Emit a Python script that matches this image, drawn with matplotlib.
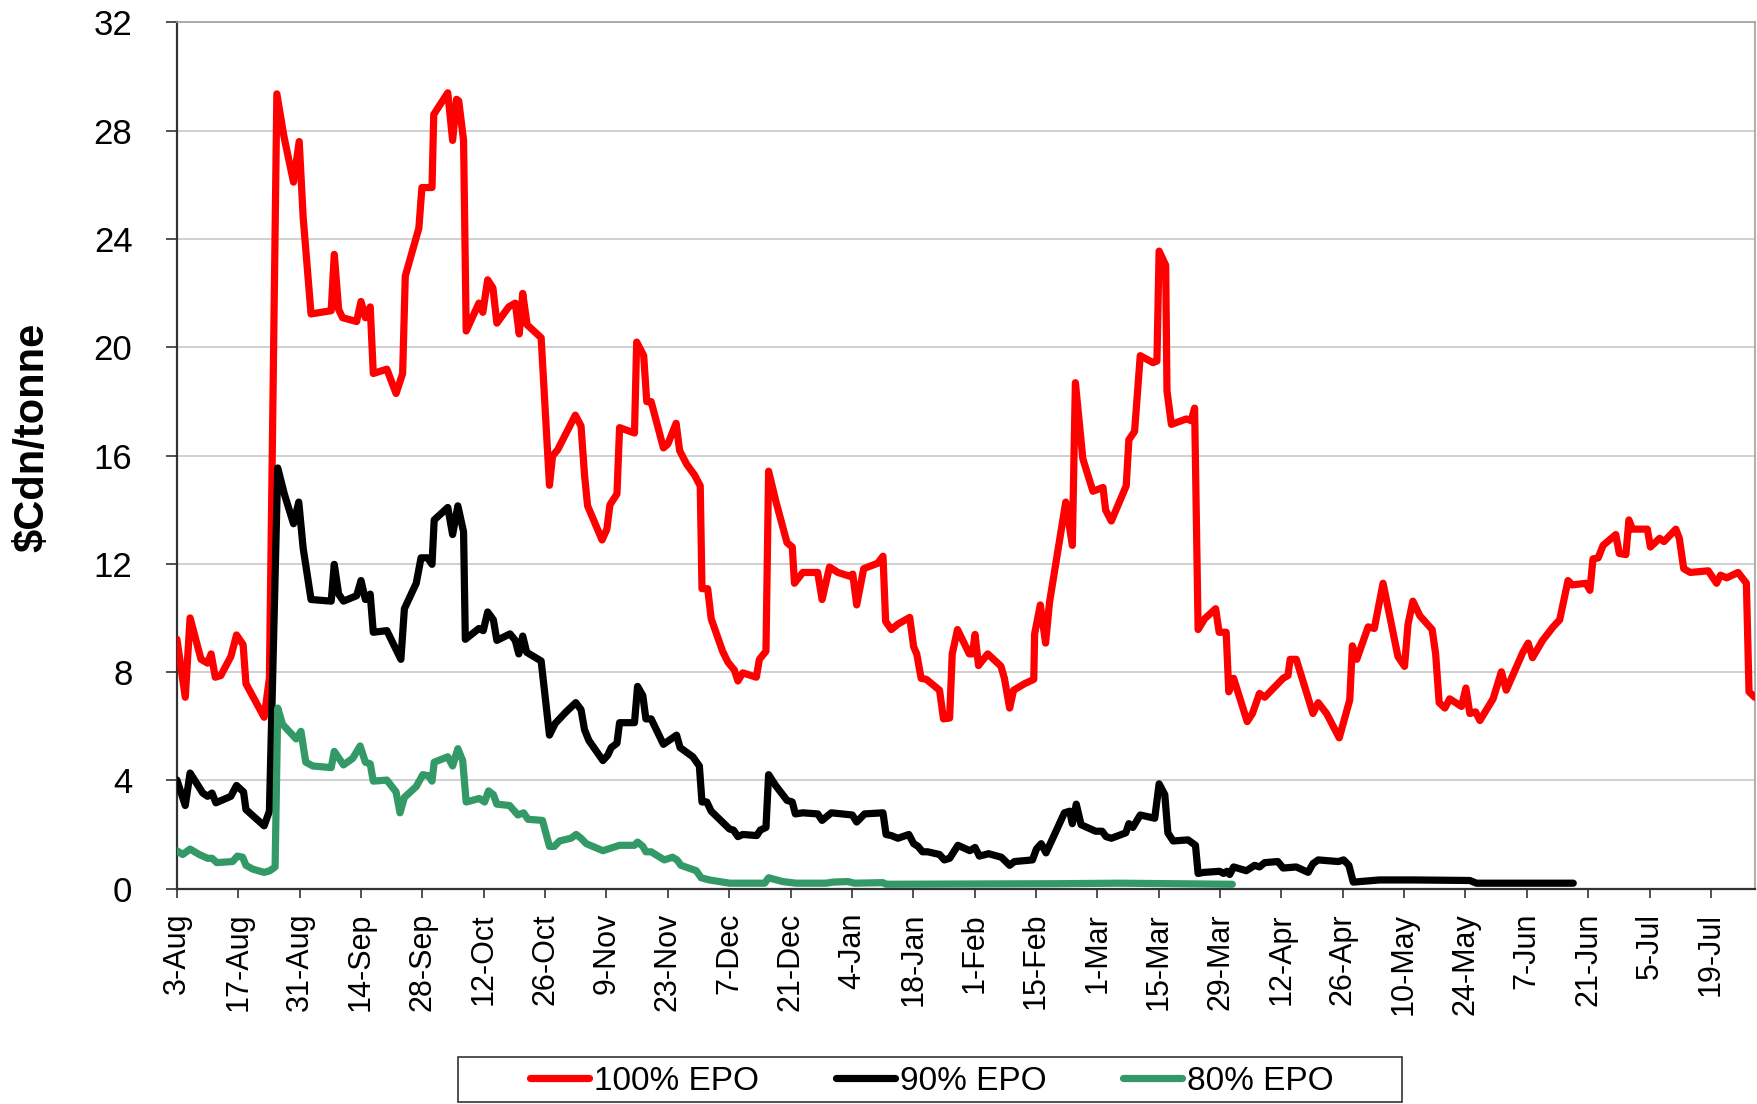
import numpy as np
import matplotlib
matplotlib.use('Agg')
import matplotlib.pyplot as plt
import pandas as pd
from matplotlib.patches import Rectangle

# days counted from 3-Aug, values in $Cdn/tonne
red_days = [0, 1.9, 3.0, 5.5, 7.0, 7.8, 8.75, 10.0, 12.3, 13.6, 15.1, 15.75, 19.9, 21.1, 22.8, 24.4,
            26.6, 27.9, 28.8, 30.6, 35.2, 35.9, 36.9, 37.8, 41.0, 42.0, 43.0, 44.1, 44.8, 47.9, 50.0,
            51.5, 52.1, 55.2, 55.9, 58.2, 58.6, 61.8, 62.9, 63.8, 64.3, 65.4, 66.0, 68.9, 69.8, 70.9,
            72.1, 73.0, 75.7, 77.2, 78.1, 78.9, 79.9, 83.1, 85.0, 85.7, 86.9, 90.9, 92.2, 93.0, 93.7,
            97.0, 98.1, 98.8, 100.4, 101.0, 104.4, 104.9, 106.5, 107.2, 108.2, 111.0, 112.0, 113.9,
            114.7, 116.3, 118.1, 119.4, 119.8, 121.1, 121.9, 124.5, 125.7, 127.2, 128.0, 129.1, 132.2,
            132.9, 134.4, 135.0, 136.7, 139.2, 140.4, 140.9, 142.8, 146.2, 147.2, 148.9, 150.8, 153.5,
            154.2, 155.1, 156.7, 159.9, 161.1, 161.7, 163.0, 164.5, 167.2, 168.1, 168.8, 169.8, 171.0,
            174.0, 174.9, 176.3, 176.9, 178.1, 180.8, 181.5, 182.1, 182.9, 183.7, 185.0, 188.0, 188.8,
            190.0, 190.9, 193.4, 195.5, 195.7, 197.0, 198.2, 199.1, 202.8, 204.3, 205.0, 206.7, 209.0,
            211.3, 211.9, 213.2, 216.6, 217.2, 218.5, 219.8, 222.7, 223.6, 224.1, 225.6, 225.9, 226.9,
            230.3, 231.4, 232.2, 233.0, 234.5, 237.0, 237.8, 239.4, 240.0, 241.1, 244.2, 245.4, 247.0,
            248.2, 252.4, 253.5, 254.0, 255.4, 259.2, 260.4, 262.3, 265.2, 267.6, 268.2, 269.2, 271.8,
            273.2, 274.0, 275.2, 278.6, 280.1, 280.9, 282.0, 283.6, 286.4, 287.2, 288.0, 289.3, 290.4,
            293.1, 294.1, 295.0, 296.3, 297.3, 300.3, 302.2, 303.3, 307.1, 308.3, 309.3, 311.6, 314.0,
            315.5, 317.4, 318.4, 321.5, 322.4, 323.1, 324.3, 325.4, 328.3, 329.1, 330.6, 331.3, 332.1,
            335.5, 336.2, 338.3, 339.3, 342.0, 342.8, 343.8, 345.3, 349.4, 351.3, 352.2, 353.6, 356.2,
            358.1, 358.7, 360.0]
red_vals = [9.21, 7.07, 10.0, 8.47, 8.33, 8.67, 7.81, 7.87, 8.57, 9.37, 9.01, 7.57, 6.33, 7.77, 29.36, 27.8,
            26.1, 27.6, 24.8, 21.23, 21.35, 23.43, 21.39, 21.09, 20.95, 21.69, 21.09, 21.49, 19.03, 19.19, 18.29,
            19.03, 22.63, 24.4, 25.9, 25.9, 28.6, 29.4, 27.64, 29.16, 29.1, 27.64, 20.6, 21.63, 21.29, 22.49,
            22.19, 20.89, 21.49, 21.63, 20.49, 21.99, 20.83, 20.35, 14.9, 15.98, 16.22, 17.49, 17.09, 15.28, 14.14,
            12.88, 13.28, 14.18, 14.58, 17.03, 16.83, 20.19, 19.69, 17.99, 17.99, 16.28, 16.42, 17.19,
            16.18, 15.68, 15.28, 14.88, 11.08, 11.08, 9.97, 8.77, 8.37, 8.07, 7.67, 7.97, 7.81,
            8.47, 8.77, 15.42, 14.28, 12.78, 12.62, 11.28, 11.68, 11.68, 10.68, 11.88, 11.68, 11.54,
            11.62, 10.48, 11.82, 12.02, 12.28, 9.87, 9.57, 9.77, 10.02, 8.93, 8.67, 7.77, 7.73,
            7.33, 6.27, 6.3, 8.67, 9.57, 8.67, 8.67, 9.39, 8.24, 8.41, 8.67, 8.22, 7.77,
            6.67, 7.33, 7.57, 7.73, 9.41, 10.48, 9.07, 10.58, 14.28, 12.68, 18.69, 15.88, 14.68,
            14.82, 13.98, 13.58, 14.88, 16.58, 16.89, 19.69, 19.43, 19.49, 23.55, 23.03, 18.39, 17.15,
            17.35, 17.29, 17.75, 9.57, 9.97, 10.34, 9.47, 9.47, 7.27, 7.77, 6.17, 6.47, 7.21,
            7.07, 7.77, 7.87, 8.47, 8.47, 6.47, 6.87, 6.47, 5.57, 6.97, 8.97, 8.47, 9.67,
            9.61, 10.28, 11.28, 8.57, 8.21, 9.77, 10.62, 10.08, 9.57, 8.67, 6.87, 6.67, 7.01,
            6.73, 7.41, 6.47, 6.53, 6.21, 7.01, 8.01, 7.33, 8.73, 9.07, 8.53, 9.17, 9.67,
            9.93, 11.38, 11.22, 11.28, 11.02, 12.18, 12.22, 12.68, 13.08, 12.38, 12.34, 13.62, 13.28,
            13.28, 12.62, 12.94, 12.82, 13.28, 12.94, 11.82, 11.68, 11.74, 11.28, 11.58, 11.48, 11.68,
            11.28, 7.27, 7.07]

black_days = [0, 1.9, 3.0, 5.9, 7.0, 8.0, 8.9, 12.3, 13.6, 15.2, 15.75, 19.9, 21.1, 23.0, 24.5, 26.6,
              27.8, 28.8, 30.6, 35.2, 35.9, 36.9, 38.0, 41.0, 42.0, 43.0, 44.1, 44.8, 47.9, 51.1, 51.9,
              54.6, 55.7, 57.2, 58.2, 58.7, 61.8, 62.9, 64.1, 65.4, 65.8, 68.9, 69.9, 70.9, 72.2, 73.0,
              76.0, 77.2, 78.0, 78.9, 79.8, 83.1, 85.0, 86.3, 88.8, 91.0, 92.2, 93.0, 94.0, 97.2, 98.3,
              99.1, 100.4, 101.0, 104.4, 105.1, 106.3, 107.0, 108.2, 111.0, 114.0, 114.8, 117.7, 119.2,
              119.8, 120.9, 121.9, 126.1, 127.0, 128.0, 129.1, 132.3, 133.1, 134.4, 135.0, 136.6, 139.2,
              140.4, 141.1, 142.8, 146.2, 147.2, 149.3, 154.1, 155.1, 156.9, 161.1, 161.8, 163.0, 164.5,
              167.0, 168.1, 169.1, 170.1, 171.3, 174.0, 175.1, 176.3, 178.2, 180.9, 182.1, 183.1, 185.2,
              188.1, 190.0, 191.1, 195.2, 196.1, 197.2, 198.3, 202.5, 203.7, 204.3, 205.2, 206.3, 209.6,
              211.1, 212.0, 213.2, 216.5, 217.2, 218.1, 219.8, 223.1, 224.1, 225.4, 226.1, 227.3, 230.7,
              232.4, 233.0, 234.3, 237.9, 238.8, 239.6, 240.2, 241.1, 244.0, 245.9, 247.0, 248.2, 251.2,
              252.4, 255.4, 258.1, 259.2, 260.4, 265.0, 266.2, 267.4, 268.4, 274.4, 282.0, 295.0, 296.5,
              318.6]
black_vals = [4.01, 3.07, 4.27, 3.53, 3.41, 3.53, 3.17, 3.41, 3.81, 3.57, 2.92, 2.32, 2.86, 15.54, 14.58, 13.48,
              14.28, 12.58, 10.68, 10.62, 11.98, 10.88, 10.62, 10.82, 11.38, 10.68, 10.88, 9.47, 9.53, 8.47, 10.34,
              11.28, 12.22, 12.22, 11.98, 13.62, 14.08, 13.08, 14.14, 13.18, 9.21, 9.61, 9.53, 10.22, 9.93, 9.17,
              9.41, 9.17, 8.67, 9.33, 8.73, 8.41, 5.67, 6.1, 6.53, 6.87, 6.61, 5.87, 5.47, 4.73, 4.93,
              5.21, 5.37, 6.13, 6.13, 7.47, 7.13, 6.27, 6.27, 5.33, 5.67, 5.21, 4.87, 4.53,
              3.2, 3.2, 2.86, 2.2, 2.16, 1.92, 2.0, 1.96, 2.16, 2.26, 4.21, 3.81, 3.26,
              3.2, 2.76, 2.8, 2.76, 2.52, 2.8, 2.72, 2.46, 2.76, 2.8, 2.0, 1.96, 1.86,
              2.0, 1.66, 1.56, 1.36, 1.36, 1.26, 1.06, 1.12, 1.6, 1.4, 1.52, 1.2, 1.29,
              1.16, 0.86, 1.0, 1.06, 1.46, 1.66, 1.32, 2.8, 2.86, 2.4, 3.12, 2.36, 2.12,
              2.12, 1.92, 1.86, 2.06, 2.4, 2.26, 2.72, 2.6, 3.87, 3.47, 2.06, 1.76, 1.8,
              1.6, 0.56, 0.6, 0.64, 0.56, 0.64, 0.52, 0.8, 0.66, 0.86, 0.8, 0.96, 1.0,
              0.76, 0.8, 0.6, 0.92, 1.06, 1.0, 1.06, 0.86, 0.24, 0.32, 0.32, 0.3, 0.2,
              0.2]

green_days = [0, 1.3, 3.0, 5.1, 7.0, 8.0, 9.1, 12.7, 13.8, 15.0, 15.75, 17.3, 19.9, 21.2, 22.4, 23.0,
              24.1, 27.2, 28.3, 29.4, 31.0, 35.2, 35.9, 38.0, 40.1, 41.8, 43.0, 44.1, 44.8, 47.9, 50.0,
              50.9, 51.9, 54.6, 56.1, 57.4, 58.2, 58.7, 61.8, 62.9, 64.1, 65.2, 66.0, 69.0, 70.2, 71.1,
              72.2, 73.0, 75.9, 77.8, 79.1, 80.1, 83.4, 85.0, 86.1, 87.3, 89.9, 91.1, 92.2, 93.4, 97.2,
              101.0, 104.4, 105.1, 106.3, 107.0, 108.2, 111.2, 113.1, 114.1, 115.0, 118.5, 119.6, 121.5,
              126.1, 134.1, 135.0, 138.2, 141.3, 148.1, 149.7, 153.1, 154.6, 161.1, 161.8, 200.0, 215.0,
              240.8]
green_vals = [1.4, 1.26, 1.46, 1.26, 1.12, 1.12, 0.96, 1.0, 1.2, 1.16, 0.86, 0.72, 0.6, 0.66, 0.8, 6.67,
              6.07, 5.53, 5.81, 4.67, 4.53, 4.47, 5.07, 4.57, 4.81, 5.27, 4.67, 4.61, 3.97, 4.01, 3.57,
              2.8, 3.37, 3.77, 4.21, 4.17, 3.97, 4.67, 4.87, 4.53, 5.17, 4.73, 3.2, 3.33, 3.2, 3.61,
              3.47, 3.12, 3.07, 2.72, 2.8, 2.56, 2.52, 1.56, 1.56, 1.76, 1.86, 2.0, 1.86, 1.66, 1.4,
              1.6, 1.6, 1.72, 1.56, 1.36, 1.36, 1.06, 1.16, 1.06, 0.86, 0.66, 0.4, 0.32,
              0.2, 0.2, 0.4, 0.26, 0.2, 0.2, 0.24, 0.26, 0.2, 0.22, 0.16, 0.18, 0.2,
              0.16]

tick_dates = pd.date_range('2009-08-03', periods=26, freq='14D')
tick_labels = [f"{d.day}-{d:%b}" for d in tick_dates]
tick_days = [(d - tick_dates[0]).days for d in tick_dates]

plt.rcParams['font.family'] = ['Liberation Sans', 'DejaVu Sans']

fig = plt.figure(figsize=(17.57, 11.04), dpi=100)
ax = fig.add_axes([0.1007, 0.1951, 0.898, 0.7846])

lw = 5.2
style = dict(lw=lw, solid_joinstyle='round', solid_capstyle='round', zorder=3)
ax.plot(red_days, red_vals, color='#ff0000', label='100% EPO', **style)
ax.plot(black_days, black_vals, color='#000000', label='90% EPO', **style)
ax.plot(green_days, green_vals, color='#339966', label='80% EPO', **style)

ax.set_xlim(0, 360)
ax.set_ylim(0, 32)
ax.set_yticks(np.arange(0, 33, 4))
ax.yaxis.grid(True, color='#c8c8c8', lw=1.2)
ax.set_axisbelow(True)

for s in ['top', 'right']:
    ax.spines[s].set_color('#a0a0a0')
    ax.spines[s].set_linewidth(1.2)
for s in ['left', 'bottom']:
    ax.spines[s].set_color('#333333')
    ax.spines[s].set_linewidth(1.6)

ax.tick_params(axis='y', length=8, width=1.2, pad=24, labelsize=25, color='#333333')
ax.tick_params(axis='x', length=6.5, width=1.2, pad=11, color='#333333')
ax.set_xticks(tick_days)
ax.set_xticklabels(tick_labels, rotation=90, ha='center', va='top', fontsize=22)

ax.set_ylabel('\\$Cdn/tonne', fontweight='bold', fontsize=30)
ax.yaxis.set_label_coords(-0.079, 0.521)

leg = fig.legend(loc='center', bbox_to_anchor=(0.5305, 0.0208), ncol=3, frameon=False,
                 fontsize=24, handlelength=1.77, handletextpad=0.15,
                 columnspacing=2.3, borderpad=0.1)
fig.patches.append(Rectangle((0.2604, 0.0021), 0.5376, 0.0408, transform=fig.transFigure,
                             fill=False, edgecolor='#333333', lw=1.2))

fig.savefig('out.png', dpi=100)
